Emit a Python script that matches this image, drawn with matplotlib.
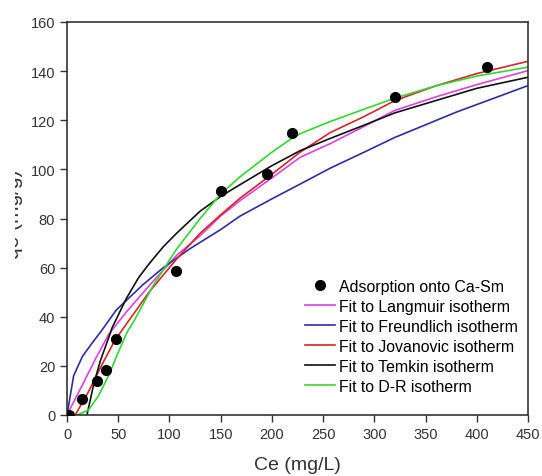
import matplotlib
matplotlib.use('Agg')
import matplotlib.pyplot as plt
from matplotlib.transforms import Bbox

# ==================== DATA ====================
ce_exp = [2, 15, 29, 38.5, 47.5, 106, 150, 195, 220, 320, 410]
qe_exp = [0, 6.5, 13.8, 18.3, 31, 58.5, 91, 98, 114.8, 129.3, 141.6]

lang_x = [0, 3, 15, 28, 41, 58, 81, 107, 130, 150, 169, 200, 227.5, 257, 290, 320, 360, 400, 450]
lang_y = [0, 2.5, 12.2, 23, 33, 42, 53, 65, 73, 81, 87.3, 96.5, 104.9, 110.5, 117.5, 124, 129.5, 134.5, 140.2]

freu_x = [0, 6.5, 15, 24, 34, 48, 74, 94, 120, 150, 169, 200, 227.5, 257, 290, 320, 380, 450]
freu_y = [0, 16, 23.8, 29, 34.5, 42.7, 53, 60, 67.7, 75.5, 81, 88, 94, 100.5, 107, 113, 123.3, 134.1]

jova_x = [8, 21, 34, 47, 55, 75, 81, 107, 130, 150, 169, 200, 227.5, 257, 290, 320, 360, 400, 450]
jova_y = [0, 9.5, 20.4, 30.6, 35.3, 47, 50.5, 63.5, 74, 81.5, 88.3, 98, 107, 115, 121.5, 128, 134, 139, 144]

temk_x = [19.5, 26, 32.5, 40.7, 44, 58, 70, 81, 94, 107, 130, 150, 169, 200, 227.5, 257, 290, 320, 360, 400, 450]
temk_y = [0, 12.4, 22, 31.5, 35.5, 47.5, 56, 62, 68.5, 74, 83, 89, 93.8, 101.5, 107.6, 112.6, 118, 123, 128, 133, 137.5]

dr_x = [10, 21, 31, 41, 50, 59, 65, 84, 107, 130, 150, 169, 200, 220, 227.5, 257, 290, 320, 360, 400, 450]
dr_y = [0, 2, 8, 16.4, 25.5, 34, 38, 52.6, 67.6, 80, 90, 97, 107, 112.8, 114.5, 119.5, 124.5, 129, 134, 138, 141.6]

x_ticks = list(range(0, 451, 50))
y_ticks = list(range(0, 161, 20))

# ==================== PLOT ====================
plt.rcParams['font.family'] = ['Liberation Sans', 'DejaVu Sans']

W, H = 542, 477
fig = plt.figure(figsize=(W / 100, H / 100), dpi=100)
ax = fig.add_axes([67 / W, 1 - 416 / H, 461 / W, 393 / H])

ax.plot(ce_exp, qe_exp, 'o', color='black', markersize=7, label='Adsorption onto Ca-Sm', zorder=5)
ax.plot(lang_x, lang_y, color='#e040e0', linewidth=1.2, label='Fit to Langmuir isotherm')
ax.plot(freu_x, freu_y, color='#2e2e9e', linewidth=1.2, label='Fit to Freundlich isotherm')
ax.plot(jova_x, jova_y, color='#d02828', linewidth=1.2, label='Fit to Jovanovic isotherm')
ax.plot(temk_x, temk_y, color='#111111', linewidth=1.2, label='Fit to Temkin isotherm')
ax.plot(dr_x, dr_y, color='#33d633', linewidth=1.2, label='Fit to D-R isotherm')

ax.set_xlim(0, 450)
ax.set_ylim(0, 160)
ax.set_xticks(x_ticks)
ax.set_yticks(y_ticks)
ax.tick_params(axis='both', direction='out', length=5, width=1, colors='#333333',
               labelsize=10.5, top=False, right=False)
for sp in ax.spines.values():
    sp.set_color('#333333')
    sp.set_linewidth(1.2)

ax.set_xlabel('Ce (mg/L)', fontsize=14, color='#333333', labelpad=11)

# y label is cut off at the left edge in the original: clip everything left of x=15px
ylab = fig.text(23 / W, 1 - 214 / H, 'qe (mg/g)', rotation=90, ha='right', va='center',
                fontsize=15, color='#333333')
ylab.set_clip_box(Bbox.from_extents(15, 0, W, H))
ylab.set_clip_on(True)

ax.legend(loc='upper left', bbox_to_anchor=(0.516, 0.346), frameon=False, fontsize=11.4,
          handlelength=1.9, handletextpad=0.25, labelspacing=0.31, borderpad=0,
          borderaxespad=0)

fig.savefig('out.png', dpi=100)
